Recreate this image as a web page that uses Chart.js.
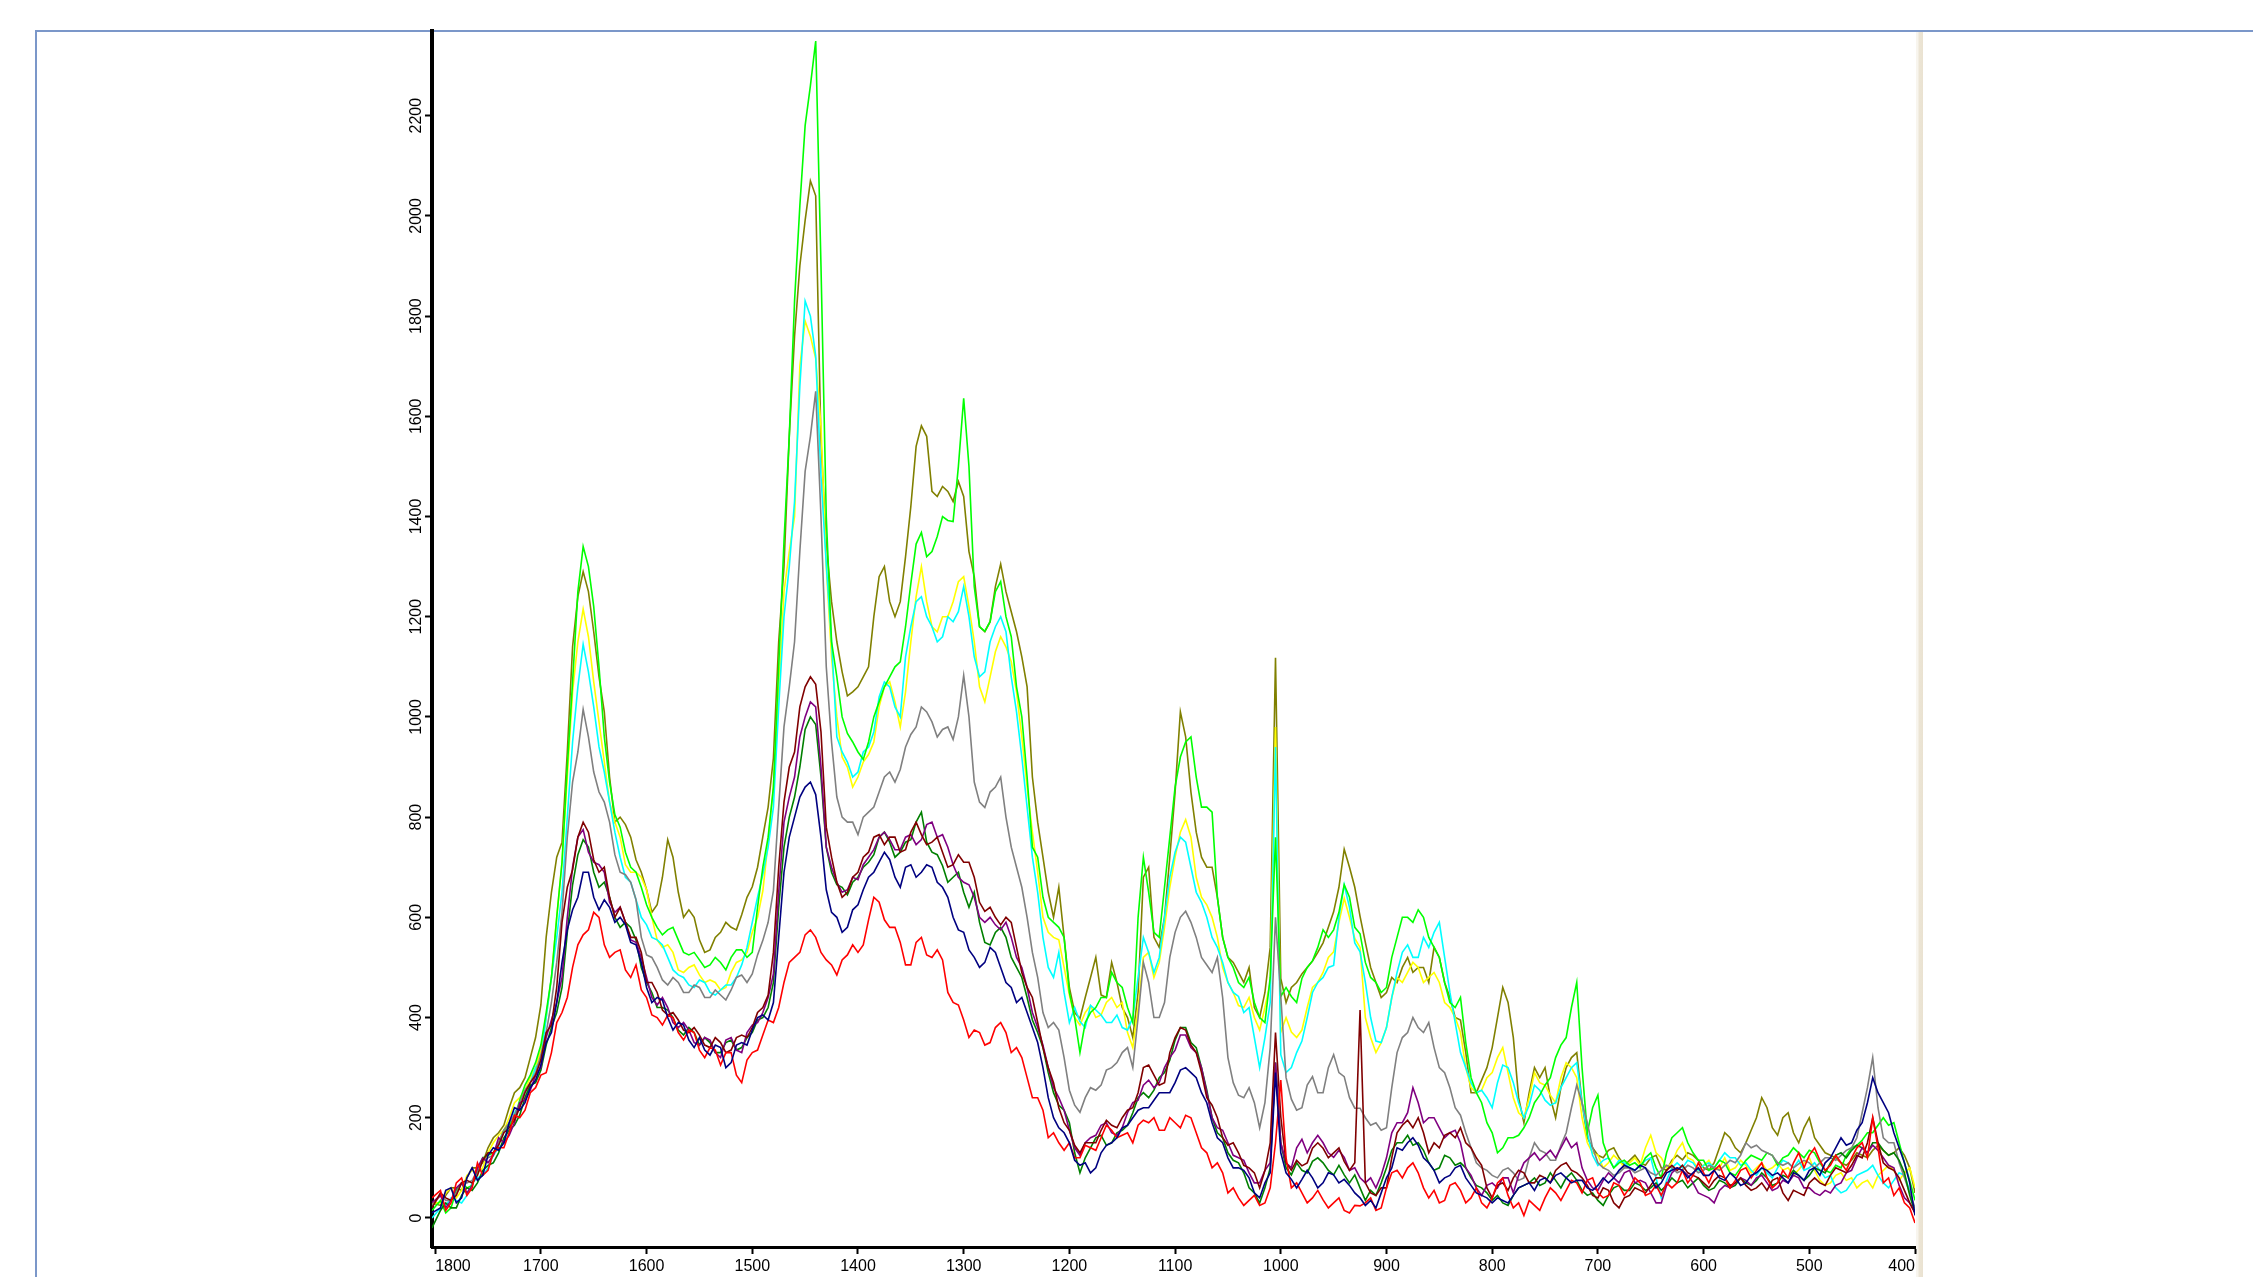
<!DOCTYPE html>
<html>
<head>
<meta charset="utf-8">
<script src="https://cdn.jsdelivr.net/npm/chart.js@4.4.1/dist/chart.umd.min.js"></script>
<style>
  html, body { margin:0; padding:0; background:#fff; width:2253px; height:1277px; overflow:hidden; }
  #frame { position:absolute; left:35px; top:30px; right:0; bottom:0; border-top:2px solid #7b97c9; border-left:2px solid #7b97c9; }
  #splitter { position:absolute; left:1916px; top:32px; width:7px; bottom:0;
    background:linear-gradient(to right,#f8f5ee 0,#f8f5ee 2px,#ece5d5 3px,#eae2d1 7px); }
  #wrap { position:absolute; left:0; top:0; width:2253px; height:1277px; }
</style>
</head>
<body>
<div id="frame"></div>
<div id="splitter"></div>
<div id="wrap"><canvas id="c" width="2253" height="1277"></canvas></div>
<script>
// Raman shift sampling (cm^-1): first point at the left edge, then every 5 cm^-1
const wavenumbers = [1803];
for (let w = 1795; w >= 400; w -= 5) wavenumbers.push(w);

// Intensities (counts), one row per 100 cm^-1 block
const red = [
  40,55,15,30,70,80,45,60,110,85,95,130,140,140,170,205,200,215,250,260,
  285,290,330,390,410,440,500,545,565,575,610,600,545,520,530,535,495,480,505,455,
  440,405,400,385,405,400,370,355,375,370,335,320,340,335,305,330,330,285,270,315,
  330,335,365,395,390,420,470,510,520,530,565,575,560,530,515,505,485,515,525,545,
  530,545,595,640,630,595,580,580,550,505,505,550,560,525,520,535,515,450,430,425,
  395,360,375,370,345,350,380,390,370,330,340,320,280,240,240,215,160,170,150,135,
  150,120,120,145,140,135,160,185,175,160,165,170,150,185,195,190,200,175,175,200,
  190,180,205,200,170,140,130,100,110,90,50,60,40,25,35,45,25,30,60,150,
  275,120,60,70,50,30,40,55,36,20,30,40,15,10,25,24,
  30,40,15,20,60,90,95,80,100,110,90,60,40,55,30,35,65,70,55,30,
  40,60,30,20,40,70,80,45,20,30,5,35,25,15,40,60,50,35,55,75,
  70,50,75,80,50,40,45,70,65,45,60,80,70,45,50,65,45,70,60,70,
  95,70,85,110,90,70,95,105,80,60,75,95,100,80,95,110,80,60,70,95,
  80,110,130,100,125,140,115,95,105,125,110,95,120,140,150,120,200,140,70,80,
  45,60,30,20,-10
];
const navy = [
  10,20,55,60,30,40,80,100,75,85,125,140,135,150,190,220,215,230,260,275,
  305,350,370,430,510,575,615,640,690,690,640,615,635,620,590,600,585,550,545,510,
  460,430,440,435,400,375,390,385,355,340,360,335,325,345,340,300,310,345,350,345,
  375,400,405,395,430,560,690,760,800,840,860,870,845,760,655,610,600,570,580,615,
  625,655,680,690,710,730,715,680,660,700,705,680,690,705,700,670,660,640,600,575,
  570,535,520,500,510,540,530,500,470,460,430,440,410,380,350,300,240,200,180,170,
  150,115,105,110,90,100,130,145,150,160,180,185,200,215,220,220,235,250,250,250,
  270,295,300,290,280,250,230,190,160,150,120,100,100,95,80,50,40,70,90,290,
  130,90,77,60,77,95,80,60,70,90,86,70,77,65,50,40,
  25,35,20,50,80,100,140,135,150,160,145,120,110,95,70,80,85,100,105,80,
  65,50,45,40,30,40,35,30,45,60,65,70,55,75,80,70,85,90,80,70,
  75,75,60,55,65,80,70,80,95,105,100,95,105,100,80,60,70,90,95,100,
  95,80,90,100,85,85,95,80,75,90,80,65,70,85,90,100,95,85,90,80,
  70,90,85,75,95,100,85,110,120,140,160,145,150,175,190,230,280,250,230,210,
  170,140,110,70,5
];
const purple = [
  30,45,20,35,60,70,50,65,100,120,110,125,160,150,165,190,230,235,255,285,
  300,360,395,430,480,600,700,760,775,730,710,705,690,630,610,620,590,555,550,520,
  480,440,425,440,420,390,380,390,375,350,345,360,355,330,320,355,360,335,330,370,
  385,390,410,440,487,650,790,840,880,960,1000,1030,1020,900,740,700,670,650,655,680,
  675,705,720,735,760,770,755,735,735,760,765,745,755,785,790,760,765,740,705,680,
  670,665,640,600,590,600,585,575,590,560,520,500,460,410,380,345,300,260,240,215,
  175,140,125,150,160,165,185,190,170,165,180,210,230,235,265,275,260,270,300,320,
  335,365,365,340,330,300,250,200,180,175,150,125,120,115,90,70,70,95,110,310,
  150,110,100,140,157,130,150,165,150,130,121,135,121,95,100,80,
  70,80,60,85,120,170,190,190,210,260,230,190,200,200,180,160,170,175,150,100,
  85,60,45,65,70,60,80,80,50,85,110,120,130,115,125,135,120,140,160,140,
  150,100,75,60,55,75,90,80,70,90,95,70,75,70,50,30,30,65,90,100,
  95,85,70,50,45,40,30,55,65,60,70,80,75,65,80,85,70,55,60,75,
  70,85,80,60,60,50,45,55,50,65,70,90,95,120,140,130,145,135,120,105,
  100,65,40,30,10
];
const maroon = [
  20,50,40,35,45,70,75,70,85,115,130,130,145,170,180,195,220,250,270,285,
  315,370,385,460,590,660,695,760,790,770,715,690,700,640,600,620,590,560,560,530,
  470,470,450,415,405,410,395,375,370,380,365,345,340,360,350,330,335,360,365,360,
  380,410,420,445,530,700,830,900,930,1020,1060,1080,1065,970,780,720,670,640,650,680,
  690,720,730,760,765,745,760,760,730,735,770,790,765,745,750,760,730,700,705,725,
  710,710,680,630,612,620,600,585,600,590,540,490,460,440,390,340,300,270,220,190,
  175,145,130,150,150,150,175,195,185,180,200,215,220,250,300,305,285,265,270,330,
  360,380,375,345,330,290,240,225,200,160,145,150,130,105,100,90,60,95,150,370,
  202,110,95,115,104,110,139,150,139,120,130,140,113,95,110,415,
  70,50,45,60,60,120,170,185,195,180,200,170,130,150,140,165,170,160,180,150,
  140,120,105,60,40,65,70,55,80,95,90,70,70,85,80,70,95,105,110,95,
  90,80,65,45,40,60,55,30,20,40,45,60,55,50,65,80,80,95,105,95,
  105,90,85,80,70,60,75,85,80,65,70,80,65,55,60,70,55,75,80,50,
  35,55,50,45,70,80,70,65,85,100,95,90,105,125,120,150,200,150,110,100,
  95,80,55,30,10
];
const green = [
  -20,15,30,20,20,45,60,55,70,95,105,110,130,160,175,185,205,240,265,270,
  295,345,380,410,460,570,665,725,755,740,690,660,670,640,600,580,590,580,555,500,
  470,450,420,420,415,400,375,365,380,370,345,360,350,330,330,350,355,335,340,360,
  370,395,400,420,470,620,740,800,840,900,975,1000,985,880,740,690,665,660,645,670,
  680,700,710,725,760,770,750,720,730,750,755,790,810,750,730,725,703,670,680,690,
  650,620,650,590,550,545,570,580,560,520,500,480,440,395,370,340,290,250,225,215,
  190,130,90,120,140,160,165,145,150,170,175,185,210,240,250,240,255,280,290,315,
  355,380,380,350,340,300,255,200,170,160,130,115,110,90,60,50,30,60,100,310,
  150,100,86,110,95,90,113,120,110,95,86,105,86,70,86,60,
  35,55,45,70,100,135,150,150,165,145,150,135,110,95,100,125,120,105,110,100,
  80,65,60,50,35,45,30,25,45,60,65,70,80,65,70,90,75,60,80,90,
  75,55,45,50,35,25,45,60,65,55,55,70,65,55,60,70,55,65,80,70,
  75,60,70,80,65,55,60,75,70,60,65,80,70,65,75,90,80,65,70,85,
  80,95,85,75,85,100,95,90,110,125,130,120,135,145,140,130,150,150,135,125,
  130,115,90,45,10
];
const gray = [
  25,45,35,35,50,70,70,75,95,115,120,125,150,175,190,205,230,255,270,290,
  325,370,430,510,610,760,870,930,1015,960,890,850,830,790,725,690,685,670,635,560,
  525,520,500,475,465,480,470,450,450,465,460,440,440,455,445,435,455,480,485,470,
  487,525,554,590,653,820,980,1060,1150,1330,1490,1560,1650,1400,1100,950,840,800,790,790,
  765,800,810,820,850,880,890,870,895,940,965,980,1020,1010,990,960,975,980,955,1000,
  1083,1000,870,830,819,850,860,880,800,740,700,660,600,530,480,410,380,390,375,320,
  255,225,211,240,260,255,265,295,300,310,330,340,300,400,510,470,400,400,430,520,
  570,600,612,590,560,520,505,490,520,440,320,270,245,240,260,230,180,230,340,600,
  442,280,237,215,220,265,282,250,250,300,326,290,282,240,219,219,
  200,185,190,175,180,260,330,360,370,400,380,370,390,340,300,290,260,220,205,170,
  140,110,100,95,85,80,95,100,90,75,80,120,150,135,130,115,115,145,170,220,
  265,230,190,140,110,100,95,85,90,100,100,90,95,100,90,85,95,105,100,90,
  95,105,100,90,95,105,100,95,105,115,110,125,150,140,145,135,130,125,110,105,
  110,100,108,115,110,100,110,120,120,115,125,135,140,160,210,260,320,220,160,150,
  150,110,80,50,20
];
const yellow = [
  30,30,50,60,40,55,85,95,90,100,130,150,165,175,200,230,240,255,280,300,
  335,400,480,600,710,880,1050,1150,1215,1160,1070,990,910,830,790,760,705,690,690,680,
  655,600,555,540,545,530,495,490,500,505,485,470,475,470,455,460,490,510,515,530,
  570,600,653,750,860,1050,1250,1330,1400,1700,1790,1760,1715,1580,1300,1120,1000,920,900,860,
  880,910,925,950,1020,1060,1070,1030,980,1050,1150,1240,1300,1230,1180,1170,1200,1200,1230,1270,
  1280,1220,1150,1060,1030,1080,1130,1160,1140,1110,1050,960,860,770,690,600,570,560,555,500,
  445,400,385,410,424,400,405,430,440,420,430,370,340,420,520,530,480,510,580,660,
  720,770,795,760,680,640,625,600,560,500,470,450,424,420,440,400,375,420,470,980,
  371,400,371,360,375,420,460,470,490,520,531,590,638,600,558,540,
  400,360,330,350,380,440,480,470,490,510,500,470,480,490,470,430,420,400,370,300,
  260,250,255,280,290,320,340,290,240,210,200,240,290,270,265,245,230,280,310,300,
  280,200,150,130,125,100,110,125,115,100,110,120,105,140,165,130,120,100,110,135,
  150,120,115,95,105,115,95,100,120,95,100,115,105,90,100,110,95,100,110,95,
  100,85,96,110,120,95,75,65,70,85,90,75,80,60,70,75,60,85,95,105,
  95,75,90,100,60
];
const cyan = [
  0,20,25,40,35,30,45,70,80,85,100,125,140,150,180,210,225,240,270,300,
  315,400,480,560,650,800,950,1060,1145,1090,1020,940,890,830,770,720,680,670,635,600,
  585,560,555,545,520,495,485,480,465,460,475,470,450,445,455,465,465,480,505,540,
  590,640,686,740,820,1020,1200,1300,1430,1660,1830,1800,1720,1480,1305,1150,960,930,910,880,
  890,930,940,970,1040,1070,1060,1020,1000,1120,1180,1230,1240,1200,1180,1150,1160,1200,1190,1210,
  1260,1200,1120,1080,1090,1150,1180,1200,1170,1080,1010,920,820,720,650,560,500,480,530,450,
  390,420,392,380,424,415,405,390,390,405,380,375,400,480,560,530,490,520,600,680,
  730,760,750,700,650,630,600,560,540,510,470,450,442,410,420,360,300,360,430,940,
  326,290,300,330,353,400,450,470,480,500,504,600,665,620,549,531,
  470,400,353,350,380,440,490,530,545,520,520,560,540,570,590,520,450,390,330,300,
  270,250,255,240,220,270,305,300,270,230,200,225,265,255,235,225,230,260,280,300,
  310,230,170,125,105,115,120,100,115,110,100,95,105,115,120,80,40,75,100,110,
  100,115,110,95,105,110,100,115,130,120,120,105,110,95,85,100,90,80,100,115,
  110,100,115,95,100,110,95,80,85,60,50,55,70,85,90,95,105,85,70,60,
  75,90,85,55,10
];
const lime = [
  15,35,10,20,55,70,60,65,95,120,125,130,150,175,185,200,235,265,285,310,
  345,410,480,600,710,900,1070,1250,1340,1300,1220,1100,960,870,805,780,730,700,690,660,
  625,600,580,565,575,580,555,530,525,530,515,500,505,520,510,495,520,535,535,520,
  530,620,700,760,860,1100,1350,1560,1830,2020,2180,2260,2349,1900,1400,1150,1080,1000,967,950,
  930,915,950,1000,1030,1060,1080,1100,1110,1180,1266,1345,1368,1320,1330,1360,1400,1392,1390,1500,
  1636,1500,1260,1180,1171,1190,1250,1270,1200,1160,1060,1000,880,740,720,640,600,590,580,560,
  450,400,330,390,410,420,440,440,490,470,460,420,390,600,720,650,570,560,660,760,
  860,920,950,960,880,820,820,810,640,560,520,500,470,460,480,430,400,390,480,760,
  442,460,442,430,478,500,513,540,575,560,575,610,665,640,580,567,
  510,480,470,450,460,520,560,600,600,590,615,600,560,540,520,470,430,420,440,350,
  280,250,230,190,170,130,140,160,160,165,180,200,230,245,265,280,320,345,360,420,
  470,300,170,220,245,150,120,100,110,115,105,110,100,120,130,100,80,130,160,170,
  180,150,130,115,115,95,100,115,110,90,85,100,115,125,120,115,130,125,105,120,
  125,140,130,120,135,130,110,95,90,105,100,125,140,145,155,170,170,185,200,185,
  190,150,110,75,35
];
const olive = [
  30,25,45,60,60,55,80,100,100,110,140,160,170,185,220,250,260,280,320,360,
  425,560,650,720,750,930,1140,1240,1290,1250,1170,1080,1010,880,790,800,785,760,715,690,
  655,610,625,680,755,720,650,600,615,600,555,530,535,560,570,590,580,575,605,640,
  661,700,761,820,918,1150,1300,1560,1760,1900,1991,2070,2040,1550,1345,1230,1150,1090,1042,1050,
  1060,1080,1100,1200,1280,1300,1230,1200,1230,1320,1420,1540,1581,1560,1450,1440,1460,1450,1430,1470,
  1440,1330,1280,1180,1170,1190,1260,1305,1250,1210,1170,1120,1060,880,790,720,650,600,660,560,
  460,410,398,440,480,520,445,440,510,470,420,400,360,450,680,700,560,540,600,720,
  850,1010,960,850,770,720,700,700,640,560,520,510,490,470,500,420,400,450,540,1118,
  478,430,460,470,487,500,513,530,549,580,611,660,736,700,660,602,
  550,500,470,440,450,480,470,500,520,490,500,500,470,540,520,470,440,400,395,330,
  250,250,275,300,340,400,460,430,360,240,190,250,300,280,300,240,200,260,300,320,
  330,230,160,140,125,120,135,140,120,105,115,125,110,105,120,125,100,95,115,125,
  116,130,125,115,100,95,110,140,170,160,140,130,150,175,200,240,220,180,165,200,
  210,170,150,180,200,160,145,130,125,120,110,105,115,130,125,120,135,145,135,125,
  130,140,125,100,50
];

// Axis ticks
const xTickValues = [400,500,600,700,800,900,1000,1100,1200,1300,1400,1500,1600,1700,1800];
const yTickValues = [0,200,400,600,800,1000,1200,1400,1600,1800,2000,2200];

// Drawing order: first entry ends up on top
const spectra = [
  { name: 'navy',   values: navy,   color: '#000080' },
  { name: 'red',    values: red,    color: '#ff0000' },
  { name: 'maroon', values: maroon, color: '#800000' },
  { name: 'purple', values: purple, color: '#800080' },
  { name: 'green',  values: green,  color: '#008000' },
  { name: 'gray',   values: gray,   color: '#808080' },
  { name: 'lime',   values: lime,   color: '#00ff00' },
  { name: 'cyan',   values: cyan,   color: '#00ffff' },
  { name: 'yellow', values: yellow, color: '#ffff00' },
  { name: 'olive',  values: olive,  color: '#808000' }
];

const FONT = { family: '"Liberation Sans", Arial, sans-serif', size: 16 };

const datasets = spectra.map(s => ({
  label: s.name,
  data: wavenumbers.map((w, i) => ({ x: w, y: s.values[i] })),
  borderColor: s.color,
  backgroundColor: s.color,
  borderWidth: 1.6,
  pointRadius: 0,
  tension: 0,
  fill: false
}));

new Chart(document.getElementById('c'), {
  type: 'line',
  data: { datasets },
  options: {
    responsive: false,
    animation: false,
    devicePixelRatio: 1,
    layout: { padding: { left: 372, right: 338, top: 31, bottom: 0 } },
    plugins: { legend: { display: false }, tooltip: { enabled: false } },
    scales: {
      x: {
        type: 'linear',
        reverse: true,
        min: 400,
        max: 1803,
        afterBuildTicks: s => { s.ticks = xTickValues.map(v => ({ value: v })); },
        afterFit: s => { s.height = 30; },
        border: { display: true, color: '#000', width: 3 },
        grid: { display: true, drawOnChartArea: false, drawTicks: true, tickLength: 7, tickColor: '#000', tickWidth: 2 },
        ticks: {
          color: '#000', font: FONT, padding: 3, align: 'inner',
          minRotation: 0, maxRotation: 0, autoSkip: false,
          callback: v => String(v)
        }
      },
      y: {
        type: 'linear',
        min: -58,
        max: 2369,
        afterBuildTicks: s => { s.ticks = yTickValues.map(v => ({ value: v })); },
        afterFit: s => { s.width = 60; },
        border: { display: true, color: '#000', width: 4 },
        grid: { display: true, drawOnChartArea: false, drawTicks: true, tickLength: 7, tickColor: '#000', tickWidth: 2 },
        ticks: {
          color: '#000', font: FONT, padding: -9, crossAlign: 'center',
          minRotation: 90, maxRotation: 90, autoSkip: false,
          callback: v => String(v)
        }
      }
    }
  }
});
</script>
</body>
</html>
